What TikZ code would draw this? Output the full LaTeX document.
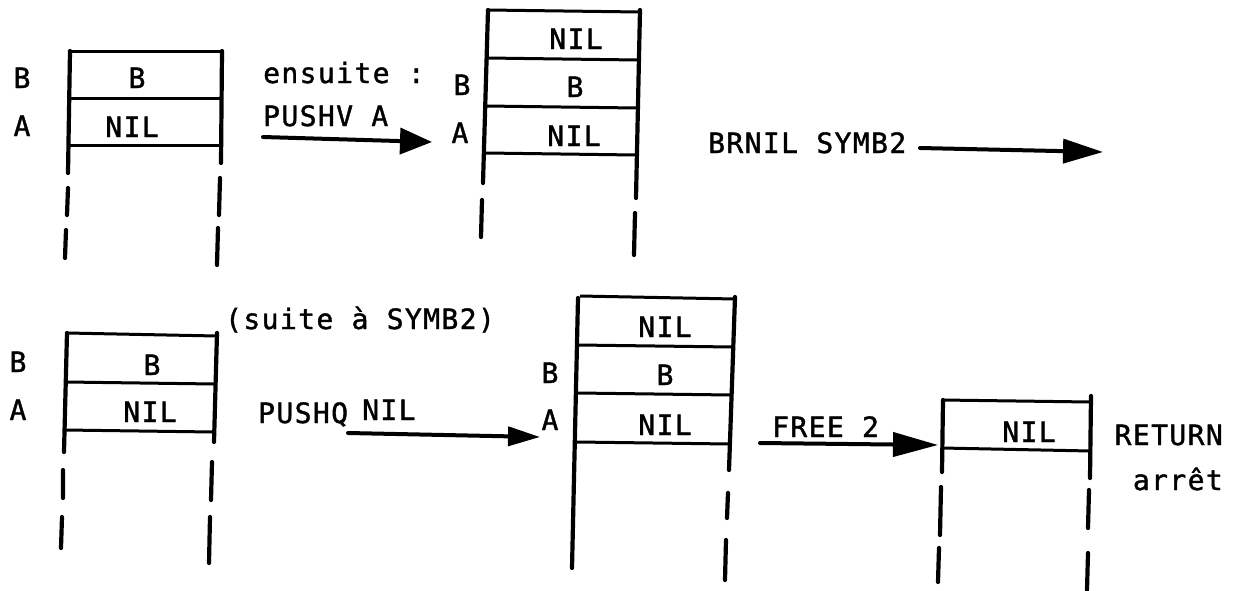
\documentclass[tikz,border=0pt]{standalone}
\usepackage{fontspec}
\usetikzlibrary{arrows.meta}
\newfontfamily\typew[LetterSpace=5,FakeBold=1.3]{DejaVu Sans Mono}
\begin{document}
\begin{tikzpicture}[x=1pt,y=-1pt,
  wall/.style={line width=4.2pt,line cap=round},
  rowline/.style={line width=3pt},
  txt/.style={font=\typew\fontsize{28}{30}\selectfont,inner sep=0pt},
  cell/.style={txt,anchor=base},
  lft/.style={txt,anchor=base west},
  rgt/.style={txt,anchor=base east},
  arr/.style={line width=4pt,line cap=round,-{Triangle[length=#1]}},
]
\useasboundingbox (0,0) rectangle (1245,590);

% ---------- stack 1 ----------
\draw[rowline] (70,51)--(222,51) (70,98)--(221,98) (69,145)--(220,145);
\draw[wall] (70,51)--(68,173) (68,188)--(67,215) (66,230)--(65,258);
\draw[wall] (222,51)--(221,163) (220,178)--(219,215) (218,228)--(217,265);
\node[cell] (s1lb) at (22,88) {B};
\node[cell] (s1la) at (22,136) {A};
\node[cell] (s1b) at (137,88) {B};
\node[cell] (s1nil) at (132,137) {NIL};

% ---------- arrow 1 ----------
\node[lft] (ensuite) at (263,83) {ensuite :};
\node[lft] (pushv) at (263,126) {PUSHV A};
\coordinate (a1s) at (263,137);
\coordinate (a1e) at (432,142);
\draw[arr={32pt 0 0,width=26pt}] (a1s) -- (a1e);

% ---------- stack 2 ----------
\draw[rowline] (488,10)--(640,12) (487,58)--(638,60) (486,106)--(637,108) (486,153)--(636,155);
\draw[wall] (488,10)--(483,183) (482,200)--(481,237);
\draw[wall] (640,10)--(636,198) (635,213)--(634,255);
\node[cell] (s2lb) at (462,95) {B};
\node[cell] (s2la) at (460,143) {A};
\node[cell] (s2nil1) at (576,49) {NIL};
\node[cell] (s2b) at (575,97) {B};
\node[cell] (s2nil2) at (574,146) {NIL};

% ---------- arrow 2 ----------
\node[lft] (brnil) at (708,153) {BRNIL SYMB2};
\coordinate (a2s) at (920,148);
\coordinate (a2e) at (1103,152);
\draw[arr={40pt 0 0,width=24pt}] (a2s) -- (a2e);

% ---------- stack 3 ----------
\node[lft] (suite) at (225,329) {(suite à SYMB2)};
\draw[rowline] (67,333)--(217,336) (66,382)--(215,384) (65,430)--(214,432);
\draw[wall] (67,333)--(64,452) (63,470)--(63,498) (62,517)--(61,548);
\draw[wall] (217,333)--(214,442) (212,462)--(211,500) (210,517)--(209,563);
\node[cell] (s3lb) at (18,372) {B};
\node[cell] (s3la) at (18,420) {A};
\node[cell] (s3b) at (152,375) {B};
\node[cell] (s3nil) at (150,422) {NIL};

% ---------- arrow 3 ----------
\node[lft] (pushq) at (258,423) {PUSHQ};
\node[lft] (pqnil) at (362,420) {NIL};
\coordinate (a3s) at (348,433);
\coordinate (a3e) at (540,437);
\draw[arr={32pt 0 0,width=19pt}] (a3s) -- (a3e);

% ---------- stack 4 ----------
\draw[rowline] (580,296)--(735,299) (578,345)--(733,347) (578,393)--(731,395) (577,442)--(730,444);
\draw[wall] (578,298)--(572,568);
\draw[wall] (735,297)--(729,470) (728,493)--(727,518) (726,540)--(725,580);
\node[cell] (s4lb) at (550,383) {B};
\node[cell] (s4la) at (550,430) {A};
\node[cell] (s4nil1) at (665,337) {NIL};
\node[cell] (s4b) at (665,385) {B};
\node[cell] (s4nil2) at (665,435) {NIL};

% ---------- arrow 4 ----------
\node[lft] (free) at (772,437) {FREE 2};
\coordinate (a4s) at (760,443);
\coordinate (a4e) at (938,445);
\draw[arr={45pt 0 0,width=24pt}] (a4s) -- (a4e);

% ---------- stack 5 ----------
\draw[rowline] (942,400)--(1091,402) (942,448)--(1091,451);
\draw[wall] (943,400)--(942,472) (941,487)--(940,535) (939,548)--(938,582);
\draw[wall] (1091,396)--(1090,478) (1089,490)--(1088,528) (1088,553)--(1087,590);
\node[cell] (s5nil) at (1029,442) {NIL};
\node[rgt] (ret) at (1223,445) {RETURN};
\node[rgt] (arret) at (1223,490) {arrêt};
\end{tikzpicture}
\end{document}
